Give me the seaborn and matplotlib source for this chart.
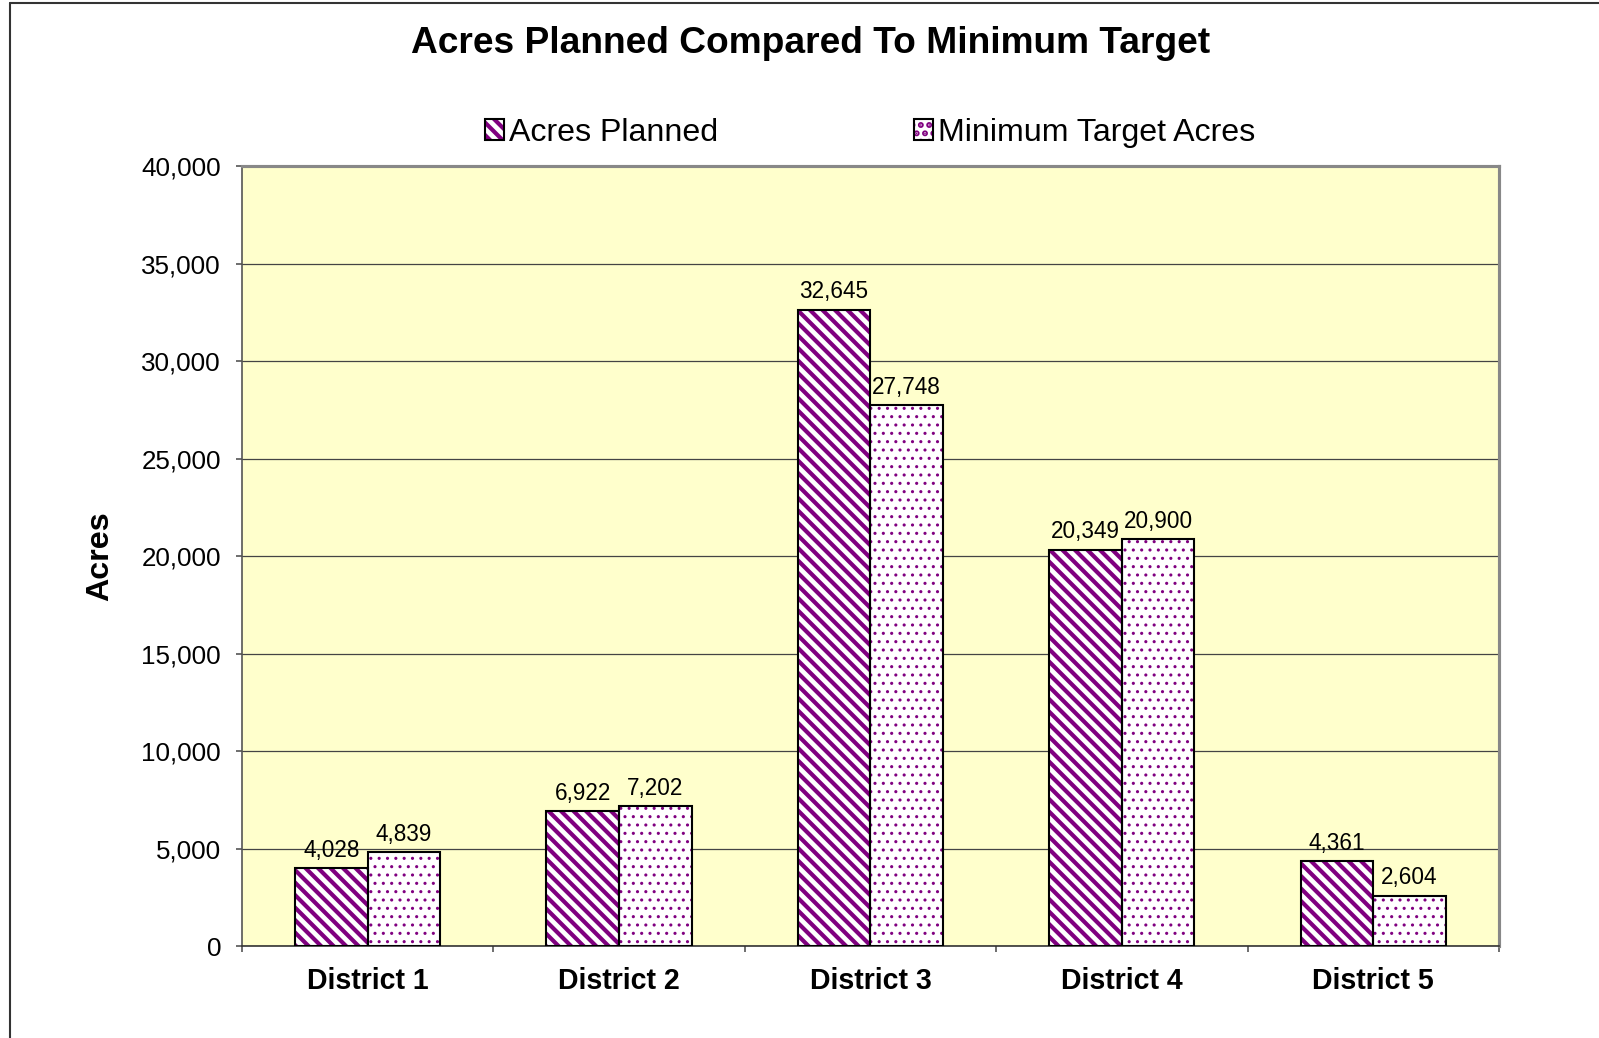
import pandas as pd
import matplotlib
matplotlib.use("Agg")
import matplotlib.pyplot as plt
import matplotlib.patches as mpatches
from matplotlib.lines import Line2D
from matplotlib.legend_handler import HandlerTuple
from matplotlib.ticker import FuncFormatter, MultipleLocator
import seaborn as sns

# --- Data ---
districts = ["District 1", "District 2", "District 3", "District 4", "District 5"]
acres_planned = [4028, 6922, 32645, 20349, 4361]
min_target = [4839, 7202, 27748, 20900, 2604]
series_names = ["Acres Planned", "Minimum Target Acres"]

df = pd.DataFrame({
    "District": districts * 2,
    "Acres": acres_planned + min_target,
    "Series": [series_names[0]] * len(districts) + [series_names[1]] * len(districts),
})

sns.set_theme(style="white")
plt.rcParams["font.family"] = ["Liberation Sans", "DejaVu Sans"]
plt.rcParams["text.color"] = "black"
plt.rcParams["axes.labelcolor"] = "black"
plt.rcParams["xtick.color"] = "black"
plt.rcParams["ytick.color"] = "black"
plt.rcParams["hatch.linewidth"] = 2.0

purple = "#800080"
BS = chr(92)  # backslash


def thin_hatch(draw_fn, lw):
    # draw this patch with a thinner hatch line
    def _draw(renderer):
        with plt.rc_context({"hatch.linewidth": lw}):
            draw_fn(renderer)
    return _draw


fig = plt.figure(figsize=(1599 / 150, 1038 / 150), dpi=150)
ax = fig.add_axes([0.1513, 0.0882, 0.7861, 0.7516])
ax.set_facecolor("#FFFFCC")

sns.barplot(data=df, x="District", y="Acres", hue="Series", order=districts,
            hue_order=series_names, palette=["white", "white"], saturation=1,
            width=0.577, gap=0, legend=False, ax=ax, zorder=3)

hatches = [BS * 4, "..."]
hatch_lw = [2.0, 0.7]
handles = []
for cont, h, hlw in zip(ax.containers, hatches, hatch_lw):
    outlines = []
    for p in cont.patches:
        p.set_hatch(h)
        p.set_edgecolor(purple)
        p.set_linewidth(0)
        if hasattr(p, "set_hatch_linewidth"):
            p.set_hatch_linewidth(hlw)
        p.draw = thin_hatch(p.draw, hlw)
        o = mpatches.Rectangle(p.get_xy(), p.get_width(), p.get_height(),
                               fill=False, edgecolor="black", linewidth=1.0, zorder=4)
        ax.add_patch(o)
        outlines.append(o)
    handles.append((cont.patches[0], outlines[0]))
    ax.bar_label(cont, fmt="{:,.0f}", padding=3, fontsize=10.8, zorder=5)

# --- Axes styling ---
ax.set_xlim(-0.5, len(districts) - 0.5)
ax.set_ylim(0, 40000)
ax.yaxis.set_major_locator(MultipleLocator(5000))
ax.yaxis.set_major_formatter(FuncFormatter(lambda v, _: f"{v:,.0f}"))
ax.grid(axis="y", color="#444444", linewidth=0.6, zorder=0)
ax.set_axisbelow(True)

ax.tick_params(axis="y", which="major", left=True, length=3, width=0.8,
               color="#555555", pad=7, labelsize=12.5, labelcolor="black")
ax.tick_params(axis="x", which="major", bottom=False, pad=4, labelsize=13.7,
               labelcolor="black")
for lab in ax.get_xticklabels():
    lab.set_fontweight("bold")
ax.set_xticks([i + 0.5 for i in range(-1, len(districts))], minor=True)
ax.tick_params(axis="x", which="minor", bottom=True, length=3, width=0.8, color="#555555")

ax.set_xlabel("")
ax.set_ylabel("Acres", fontsize=15.5, fontweight="bold", color="black")
ax.yaxis.set_label_coords(-0.1005, 0.5)

ax.spines["left"].set_color("#555555")
ax.spines["left"].set_linewidth(0.8)
ax.spines["bottom"].set_color("#333333")
ax.spines["bottom"].set_linewidth(0.8)
for s in ["top", "right"]:
    ax.spines[s].set_color("#888888")
    ax.spines[s].set_linewidth(1.5)

# --- Title & legend ---
fig.text(0.507, 0.9585, "Acres Planned Compared To Minimum Target",
         ha="center", va="center", fontsize=17.8, fontweight="bold", color="black")
leg = fig.legend(handles, series_names, handler_map={tuple: HandlerTuple(ndivide=1, pad=0)},
                 loc="center", bbox_to_anchor=(0.544, 0.872), ncol=2, frameon=False,
                 fontsize=15.4, handlelength=0.6, handleheight=0.6, handletextpad=0.15,
                 columnspacing=6.1)
for r in leg.findobj(mpatches.Rectangle):
    if r.get_hatch() == "...":
        r.draw = thin_hatch(r.draw, 0.7)

# --- Outer chart border ---
fig.add_artist(Line2D([10 / 1599, 10 / 1599], [0, 1 - 3 / 1038], color="#333333", linewidth=1.0))
fig.add_artist(Line2D([10 / 1599, 1], [1 - 3 / 1038, 1 - 3 / 1038], color="#333333", linewidth=1.0))

fig.savefig("out.png", dpi=150, facecolor="white")
